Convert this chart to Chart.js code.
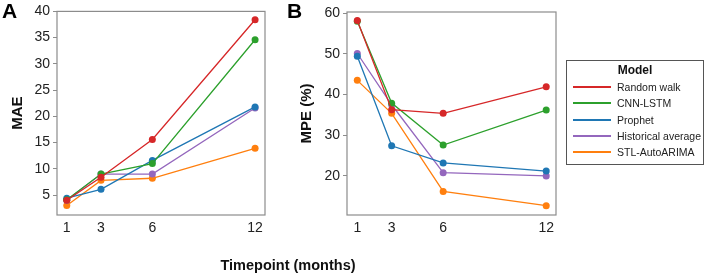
<!DOCTYPE html>
<html>
<head>
<meta charset="utf-8">
<script src="https://cdn.jsdelivr.net/npm/chart.js@4"></script>
<style>
  body { margin: 0; background: #fff; font-family: "Liberation Sans", Arial, sans-serif; }
  #wrap { position: relative; width: 708px; height: 274px; overflow: hidden; }
  canvas { position: absolute; top: 0; }
  .panel { position: absolute; font-weight: bold; font-size: 21px; color: #000; line-height: 1; }
  #xtitle { position: absolute; left: 188px; width: 200px; top: 257px; text-align: center;
            font-weight: bold; font-size: 14.5px; color: #111; }
  #legend { position: absolute; left: 566px; top: 60px; width: 138px; height: 105px;
            border: 1px solid #555; box-sizing: border-box; }
  #legend .head { position: absolute; left: 0; width: 100%; top: 2px; text-align: center;
                  font-weight: bold; font-size: 12px; color: #111; }
  #legend .row { position: absolute; left: 0; height: 14px; }
  #legend .swatch { position: absolute; left: 6px; top: 6px; width: 38px; height: 2px; }
  #legend .lbl { position: absolute; left: 50px; top: 0; font-size: 10.5px; line-height: 14px;
                 color: #222; white-space: nowrap; }
</style>
</head>
<body>
<div id="wrap">
  <canvas id="chartA" width="280" height="274" style="left:0"></canvas>
  <canvas id="chartB" width="290" height="274" style="left:280px"></canvas>
  <div class="panel" style="left:2px;top:0px">A</div>
  <div class="panel" style="left:287px;top:0px">B</div>
  <div id="xtitle">Timepoint (months)</div>
  <div id="legend"><div class="head">Model</div></div>
</div>
<script>
const timepoints = [1, 3, 6, 12];
const modelNames = ["Random walk", "CNN-LSTM", "Prophet", "Historical average", "STL-AutoARIMA"];
const modelColors = ["#d62728", "#2ca02c", "#1f77b4", "#9467bd", "#ff7f0e"];

// panel A: MAE
const maeRandomWalk = [4.0, 8.4, 15.6, 38.4];
const maeCnnLstm = [4.1, 9.0, 11.0, 34.6];
const maeProphet = [4.4, 6.1, 11.6, 21.8];
const maeHistorical = [4.0, 9.0, 9.0, 21.6];
const maeStl = [3.0, 7.8, 8.2, 13.9];
const maeTicks = [5, 10, 15, 20, 25, 30, 35, 40];

// panel B: MPE (%)
const mpeRandomWalk = [58.2, 36.3, 35.4, 41.9];
const mpeCnnLstm = [58.0, 37.9, 27.6, 36.2];
const mpeProphet = [49.4, 27.4, 23.2, 21.2];
const mpeHistorical = [50.1, 37.5, 20.8, 20.0];
const mpeStl = [43.5, 35.4, 16.2, 12.7];
const mpeTicks = [20, 30, 40, 50, 60];

const font = "'Liberation Sans', Arial, sans-serif";

const boxPlugin = {
  id: "box",
  beforeDatasetsDraw(chart) {
    const a = chart.chartArea;
    const ctx = chart.ctx;
    ctx.save();
    ctx.strokeStyle = "#8c8c8c";
    ctx.lineWidth = 1.2;
    ctx.strokeRect(a.left, a.top, a.right - a.left, a.bottom - a.top);
    ctx.restore();
  }
};

function makeChart(id, seriesList, yTicks, yMin, yMax, yTitle, opts) {
  const datasets = seriesList.map((vals, i) => ({
    label: modelNames[i],
    data: vals.map((v, j) => ({ x: timepoints[j], y: v })),
    borderColor: modelColors[i],
    backgroundColor: modelColors[i],
    borderWidth: 1.3,
    pointRadius: 3.5,
    pointBorderWidth: 0,
    pointHoverRadius: 3.5,
    tension: 0
  }));
  return new Chart(document.getElementById(id), {
    type: "line",
    data: { datasets: datasets },
    plugins: [boxPlugin],
    options: {
      responsive: false,
      animation: false,
      layout: { padding: { top: opts.top, right: opts.right, bottom: 29, left: 0 } },
      plugins: { legend: { display: false }, tooltip: { enabled: false } },
      scales: {
        x: {
          type: "linear",
          min: opts.xMin,
          max: opts.xMax,
          afterBuildTicks: (s) => { s.ticks = timepoints.map(v => ({ value: v })); },
          afterFit: (s) => { s.height = 30; },
          grid: { display: false, drawTicks: false },
          border: { display: false },
          ticks: { color: "#222", padding: 5, font: { family: font, size: 14 } }
        },
        y: {
          min: yMin,
          max: yMax,
          afterBuildTicks: (s) => { s.ticks = yTicks.map(v => ({ value: v })); },
          afterFit: (s) => { s.width = opts.yWidth; },
          grid: { drawOnChartArea: false, drawTicks: true, tickLength: 4, color: "#8c8c8c" },
          border: { display: false },
          ticks: { color: "#222", padding: 3, font: { family: font, size: 14 } },
          title: {
            display: true,
            text: yTitle,
            color: "#111",
            padding: { top: opts.titlePad, bottom: 0 },
            font: { family: font, size: 15, weight: "bold" }
          }
        }
      }
    }
  });
}

makeChart("chartA", [maeRandomWalk, maeCnnLstm, maeProphet, maeHistorical, maeStl],
  maeTicks, 1.2, 40, "MAE",
  { top: 11, right: 15, xMin: 0.43, xMax: 12.58, yWidth: 57, titlePad: 9 });

makeChart("chartB", [mpeRandomWalk, mpeCnnLstm, mpeProphet, mpeHistorical, mpeStl],
  mpeTicks, 10.4, 60.3, "MPE (%)",
  { top: 12, right: 14, xMin: 0.4, xMax: 12.57, yWidth: 67, titlePad: 18 });

// legend built from the same names and colours
const legend = document.getElementById("legend");
modelNames.forEach((name, i) => {
  const row = document.createElement("div");
  row.className = "row";
  row.style.top = (19 + i * 16.3) + "px";
  row.innerHTML = '<div class="swatch" style="background:' + modelColors[i] + '"></div>' +
                  '<div class="lbl">' + name + '</div>';
  row.style.width = "100%";
  legend.appendChild(row);
});
</script>
</body>
</html>
